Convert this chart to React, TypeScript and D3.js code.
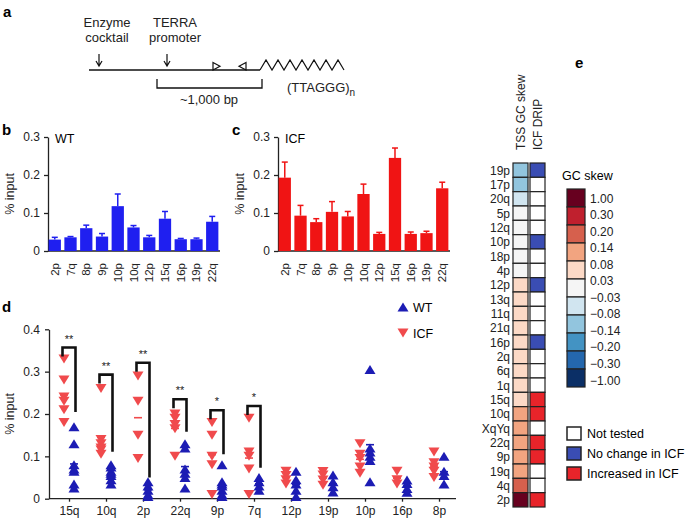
import React, { useEffect, useRef } from "react";
import * as d3 from "d3";

const W = 685;
const H = 523;
const FONT = "'Liberation Sans', Arial, Helvetica, sans-serif";

// panels b and c: ChIP % input per telomere
const barCats = ["2p", "7q", "8p", "9p", "10p", "10q", "12p", "15q", "16p", "19p", "22q"];
const wtMean = [0.03, 0.036, 0.06, 0.038, 0.118, 0.062, 0.036, 0.085, 0.031, 0.031, 0.077];
const wtSem = [0.006, 0.002, 0.008, 0.008, 0.032, 0.005, 0.005, 0.019, 0.002, 0.003, 0.014];
const icfMean = [0.193, 0.093, 0.076, 0.103, 0.091, 0.15, 0.045, 0.245, 0.045, 0.047, 0.165];
const icfSem = [0.041, 0.027, 0.009, 0.027, 0.013, 0.026, 0.004, 0.026, 0.005, 0.005, 0.016];
const barTicks = [0, 0.1, 0.2, 0.3];

// panel d: individual replicates
const dotCats = ["15q", "10q", "2p", "22q", "9p", "7q", "12p", "19p", "10p", "16p", "8p"];
const icfDots = [
  [0.33, 0.28, 0.24, 0.23, 0.21, 0.18],
  [0.26, 0.14, 0.13, 0.12, 0.115, 0.105],
  [0.29, 0.23, 0.15, 0.095],
  [0.2, 0.19, 0.175, 0.165, 0.1],
  [0.18, 0.15, 0.1, 0.08, 0.01],
  [0.19, 0.11, 0.1, 0.07, 0.01],
  [0.065, 0.055, 0.045, 0.035],
  [0.064, 0.056, 0.044, 0.032],
  [0.13, 0.105, 0.095, 0.075, 0.06],
  [0.065, 0.045, 0.035],
  [0.11, 0.085, 0.075, 0.065, 0.05],
];
const wtDots = [
  [0.17, 0.13, 0.08, 0.07, 0.065, 0.035, 0.025],
  [0.08, 0.075, 0.065, 0.06, 0.055, 0.045, 0.035],
  [0.04, 0.03, 0.02, 0.01, 0.005],
  [0.13, 0.12, 0.07, 0.06, 0.05, 0.025],
  [0.08, 0.04, 0.035, 0.03, 0.02, 0.01, 0.005],
  [0.05, 0.04, 0.03, 0.02],
  [0.065, 0.045, 0.035, 0.02, 0.005],
  [0.056, 0.04, 0.028, 0.016],
  [0.305, 0.12, 0.11, 0.1, 0.09, 0.04],
  [0.044, 0.036, 0.024, 0.015],
  [0.1, 0.065, 0.055, 0.035],
];
const dotTicks = [0, 0.1, 0.2, 0.3, 0.4];
const sigCats = ["15q", "10q", "2p", "22q", "9p", "7q"];
const sigTop = [0.357, 0.293, 0.321, 0.235, 0.209, 0.219];
const sigEnd = [0.205, 0.111, 0.05, 0.158, 0.105, 0.073];
const sigLabel = ["**", "**", "**", "**", "*", "*"];

// panel e: heatmap
const hmRows = ["19p", "17p", "20q", "5p", "12q", "10p", "18p", "4p", "12p", "13q", "11q", "21q",
  "16p", "2q", "6q", "1q", "15q", "10q", "XqYq", "22q", "9p", "19q", "4q", "2p"];
const tssSkew = [-0.11, -0.1, -0.05, 0.0, 0.0, 0.0, 0.01, 0.01, 0.04, 0.05, 0.05, 0.05,
  0.05, 0.05, 0.06, 0.06, 0.06, 0.1, 0.1, 0.11, 0.11, 0.12, 0.16, 0.45];
const dripStatus = [1, 0, 0, 0, 0, 1, 0, 0, 1, 0, 0, 0, 1, 0, 0, 0, 2, 2, 0, 2, 2, 0, 0, 2];
const skewBreaks = [-0.3, -0.2, -0.14, -0.08, -0.03, 0.03, 0.08, 0.14, 0.2, 0.3];
const skewColors = ["#0b2f66", "#2467ad", "#4393c3", "#92c5de", "#d1e5f0", "#f5f5f5",
  "#fcd9c6", "#f2a480", "#d6604d", "#c0202e", "#67001f"];
const skewLabels = ["1.00", "0.30", "0.20", "0.14", "0.08", "0.03", "\u22120.03", "\u22120.08",
  "\u22120.14", "\u22120.20", "\u22120.30", "\u22121.00"];
const dripKeys = ["Not tested", "No change in ICF", "Increased in ICF"];
const dripColors = ["#ffffff", "#3a4db3", "#e8242a"];

const RED = "#f04a4c";
const BLUE = "#1c1cb4";

type Sel = d3.Selection<SVGGElement, unknown, null, undefined>;

const fmt = (d: number) => (d === 0 ? "0" : d3.format(".1f")(d));

function letter(g: Sel, x: number, y: number, t: string) {
  g.append("text").attr("x", x).attr("y", y).attr("font-weight", "bold")
    .attr("font-size", 15).text(t);
}

function barPanel(g: Sel, x0: number, means: number[], sems: number[], color: string, title: string) {
  const y = d3.scaleLinear().domain([0, 0.3]).range([251, 137]);
  const x = d3.scaleBand().domain(barCats).range([x0, x0 + 171]).paddingInner(0.22).paddingOuter(0.04);

  const yAxis = g.append("g").attr("transform", `translate(${x0},0)`)
    .call(d3.axisLeft(y).tickValues(barTicks).tickFormat((d) => fmt(+d)).tickSize(4).tickSizeOuter(0).tickPadding(4));
  yAxis.selectAll("text").attr("font-size", 12).attr("font-family", FONT).attr("fill", "#222");
  yAxis.selectAll("line,path").attr("stroke", "#222").attr("stroke-width", 1.3);

  g.append("line").attr("x1", x0).attr("x2", x0 + 172).attr("y1", y(0)).attr("y2", y(0))
    .attr("stroke", "#222").attr("stroke-width", 1.5);

  const bars = g.append("g").selectAll("g").data(barCats).enter().append("g");
  bars.append("line")
    .attr("x1", (d) => x(d)! + x.bandwidth() / 2).attr("x2", (d) => x(d)! + x.bandwidth() / 2)
    .attr("y1", (d, i) => y(means[i])).attr("y2", (d, i) => y(means[i] + sems[i]))
    .attr("stroke", color).attr("stroke-width", 1.5);
  bars.append("line")
    .attr("x1", (d) => x(d)! + x.bandwidth() / 2 - 3).attr("x2", (d) => x(d)! + x.bandwidth() / 2 + 3)
    .attr("y1", (d, i) => y(means[i] + sems[i])).attr("y2", (d, i) => y(means[i] + sems[i]))
    .attr("stroke", color).attr("stroke-width", 1.5);
  bars.append("rect")
    .attr("x", (d) => x(d)!).attr("width", x.bandwidth())
    .attr("y", (d, i) => y(means[i])).attr("height", (d, i) => y(0) - y(means[i]))
    .attr("fill", color);

  g.append("g").selectAll("text").data(barCats).enter().append("text")
    .attr("transform", (d) => `translate(${x(d)! + x.bandwidth() / 2 + 4},${y(0) + 12}) rotate(-90)`)
    .attr("text-anchor", "end").attr("font-size", 11.5).attr("fill", "#222").text((d) => d);

  g.append("text").attr("x", x0 + 7).attr("y", 143).attr("font-size", 12.5).text(title);
  g.append("text").attr("transform", `translate(${x0 - 34},${y(0.15)}) rotate(-90)`)
    .attr("text-anchor", "middle").attr("font-size", 12.5).attr("fill", "#222").text("% input");
}

const triUp = "M-5.5,4.5L5.5,4.5L0,-4.5Z";
const triDown = "M-5.5,-4.5L5.5,-4.5L0,4.5Z";

function dotPanel(g: Sel) {
  const y = d3.scaleLinear().domain([0, 0.4]).range([498.7, 329.3]);
  const x = d3.scalePoint().domain(dotCats).range([69, 439]);

  const yAxis = g.append("g").attr("transform", "translate(49,0)")
    .call(d3.axisLeft(y).tickValues(dotTicks).tickFormat((d) => fmt(+d)).tickSize(4).tickSizeOuter(0).tickPadding(5));
  yAxis.selectAll("text").attr("font-size", 12).attr("font-family", FONT).attr("fill", "#222");
  yAxis.selectAll("line,path").attr("stroke", "#222").attr("stroke-width", 1.3);

  const xAxis = g.append("g").attr("transform", `translate(0,${y(0)})`)
    .call(d3.axisBottom(x).tickSize(3).tickSizeOuter(0).tickPadding(5));
  xAxis.select(".domain").attr("d", `M49,0H456`);
  xAxis.selectAll("text").attr("font-size", 12).attr("font-family", FONT).attr("fill", "#222");
  xAxis.selectAll("line,path").attr("stroke", "#222").attr("stroke-width", 1.3);

  const groups = [
    { data: icfDots, dx: -5, color: RED, path: triDown },
    { data: wtDots, dx: 5, color: BLUE, path: triUp },
  ];
  groups.forEach((grp) => {
    dotCats.forEach((c, i) => {
      const cx = x(c)! + grp.dx;
      g.append("g").selectAll("path").data(grp.data[i]).enter().append("path")
        .attr("d", grp.path).attr("fill", grp.color)
        .attr("transform", (v) => `translate(${cx},${y(v)})`);
      const m = d3.mean(grp.data[i])!;
      g.append("line").attr("x1", cx - 4).attr("x2", cx + 4).attr("y1", y(m)).attr("y2", y(m))
        .attr("stroke", grp.color).attr("stroke-width", 1.6);
    });
  });

  sigCats.forEach((c, i) => {
    const xl = x(c)! - 6.5;
    const xr = x(c)! + 6.5;
    g.append("path")
      .attr("d", `M${xl},${y(sigTop[i]) + 9}V${y(sigTop[i])}H${xr}V${y(sigEnd[i])}`)
      .attr("fill", "none").attr("stroke", "#111").attr("stroke-width", 2.6);
    g.append("text").attr("x", x(c)!).attr("y", y(sigTop[i]) - 5).attr("text-anchor", "middle")
      .attr("font-size", 11).attr("fill", "#222").text(sigLabel[i]);
  });

  g.append("text").attr("transform", `translate(14,${y(0.2)}) rotate(-90)`)
    .attr("text-anchor", "middle").attr("font-size", 12.5).attr("fill", "#222").text("% input");

  const leg = [
    { label: "WT", color: BLUE, path: triUp },
    { label: "ICF", color: RED, path: triDown },
  ];
  leg.forEach((l, i) => {
    g.append("path").attr("d", l.path).attr("fill", l.color)
      .attr("transform", `translate(403,${307 + i * 26})`);
    g.append("text").attr("x", 413).attr("y", 312 + i * 26).attr("font-size", 12.5).text(l.label);
  });
}

function heatPanel(g: Sel) {
  const y = d3.scaleBand().domain(hmRows).range([163, 507]);
  const cols = [513, 530];
  const cw = 15;
  const skewColor = d3.scaleThreshold<number, string>().domain(skewBreaks).range(skewColors);

  g.append("g").selectAll("text").data(hmRows).enter().append("text")
    .attr("x", 510).attr("y", (d) => y(d)! + y.bandwidth() / 2 + 4.5)
    .attr("text-anchor", "end").attr("font-size", 12).attr("fill", "#222").text((d) => d);

  g.append("g").selectAll("rect").data(hmRows).enter().append("rect")
    .attr("x", cols[0]).attr("y", (d) => y(d)!).attr("width", cw).attr("height", y.bandwidth())
    .attr("fill", (d, i) => skewColor(tssSkew[i])).attr("stroke", "#222").attr("stroke-width", 1.2);
  g.append("g").selectAll("rect").data(hmRows).enter().append("rect")
    .attr("x", cols[1]).attr("y", (d) => y(d)!).attr("width", cw).attr("height", y.bandwidth())
    .attr("fill", (d, i) => dripColors[dripStatus[i]]).attr("stroke", "#222").attr("stroke-width", 1.2);

  ["TSS GC skew", "ICF DRIP"].forEach((t, i) => {
    g.append("text").attr("transform", `translate(${cols[i] + cw / 2 + 4.5},150) rotate(-90)`)
      .attr("font-size", 12).attr("fill", "#222").text(t);
  });

  // GC skew colour bar
  g.append("text").attr("x", 562).attr("y", 180).attr("font-size", 12.5).text("GC skew");
  const cb = d3.scaleBand().domain(d3.range(skewColors.length).map(String)).range([189, 387]);
  const rev = skewColors.slice().reverse();
  g.append("g").selectAll("rect").data(rev).enter().append("rect")
    .attr("x", 567).attr("y", (d, i) => cb(String(i))!).attr("width", 18).attr("height", cb.bandwidth())
    .attr("fill", (d) => d).attr("stroke", "#222").attr("stroke-width", 1.2);
  const lab = d3.scalePoint().domain(skewLabels).range([198, 380]);
  g.append("g").selectAll("text").data(skewLabels).enter().append("text")
    .attr("x", 590).attr("y", (d) => lab(d)! + 4.5).attr("font-size", 12).attr("fill", "#222").text((d) => d);

  dripKeys.forEach((k, i) => {
    g.append("rect").attr("x", 567).attr("y", 427 + i * 20).attr("width", 14).attr("height", 13)
      .attr("fill", dripColors[i]).attr("stroke", "#222").attr("stroke-width", 1.5);
    g.append("text").attr("x", 587).attr("y", 438 + i * 20).attr("font-size", 12.5).text(k);
  });
}

function schematic(g: Sel) {
  const st = { stroke: "#111", width: 1.4 };
  g.append("line").attr("x1", 89).attr("x2", 260).attr("y1", 70).attr("y2", 70)
    .attr("stroke", st.stroke).attr("stroke-width", st.width);
  const arrows = [
    { x: 99, lines: ["Enzyme", "cocktail"] },
    { x: 167, lines: ["TERRA", "promoter"] },
  ];
  arrows.forEach((a) => {
    a.lines.forEach((l, i) => {
      g.append("text").attr("x", a.x + 8).attr("y", 27 + i * 15).attr("text-anchor", "middle")
        .attr("font-size", 13).attr("fill", "#222").text(l);
    });
    g.append("path").attr("d", `M${a.x},54V66M${a.x - 3},61L${a.x},66L${a.x + 3},61`)
      .attr("fill", "none").attr("stroke", st.stroke).attr("stroke-width", 1.2);
  });
  g.append("path").attr("d", "M213,62.5L220,66.2L213,70Z").attr("fill", "#fff")
    .attr("stroke", st.stroke).attr("stroke-width", 1.2);
  g.append("path").attr("d", "M246,62.5L239,66.2L246,70Z").attr("fill", "#fff")
    .attr("stroke", st.stroke).attr("stroke-width", 1.2);

  const teeth = d3.range(15).map((i) => [260 + i * 6, i % 2 === 0 ? 70 : 60] as [number, number]);
  g.append("path").attr("d", d3.line()(teeth)!).attr("fill", "none")
    .attr("stroke", st.stroke).attr("stroke-width", 1.2);
  const t = g.append("text").attr("x", 287).attr("y", 92).attr("font-size", 13).attr("fill", "#222");
  t.append("tspan").text("(TTAGGG)");
  t.append("tspan").attr("dy", 4).attr("font-size", 10).text("n");

  g.append("path").attr("d", "M157,79V88H262V79").attr("fill", "none")
    .attr("stroke", st.stroke).attr("stroke-width", 1.3);
  g.append("text").attr("x", 209).attr("y", 104).attr("text-anchor", "middle")
    .attr("font-size", 13).attr("fill", "#222").text("~1,000 bp");
}

export default function App() {
  const ref = useRef<SVGSVGElement>(null);

  useEffect(() => {
    if (!ref.current) return;
    const svg = d3.select(ref.current);
    svg.selectAll("*").remove();
    const root = svg.append("g") as unknown as Sel;

    letter(root, 3, 17, "a");
    schematic(root);
    letter(root, 2, 135, "b");
    barPanel(root, 48, wtMean, wtSem, "#1f1ff0", "WT");
    letter(root, 232, 135, "c");
    barPanel(root, 278, icfMean, icfSem, "#f01414", "ICF");
    letter(root, 2, 312, "d");
    dotPanel(root);
    letter(root, 575, 68, "e");
    heatPanel(root);
  }, []);

  return (
    <div style={{ position: "absolute", left: 0, top: 0, width: W, height: H, background: "#fff" }}>
      <svg ref={ref} width={W} height={H} style={{ fontFamily: FONT, display: "block" }} />
    </div>
  );
}
